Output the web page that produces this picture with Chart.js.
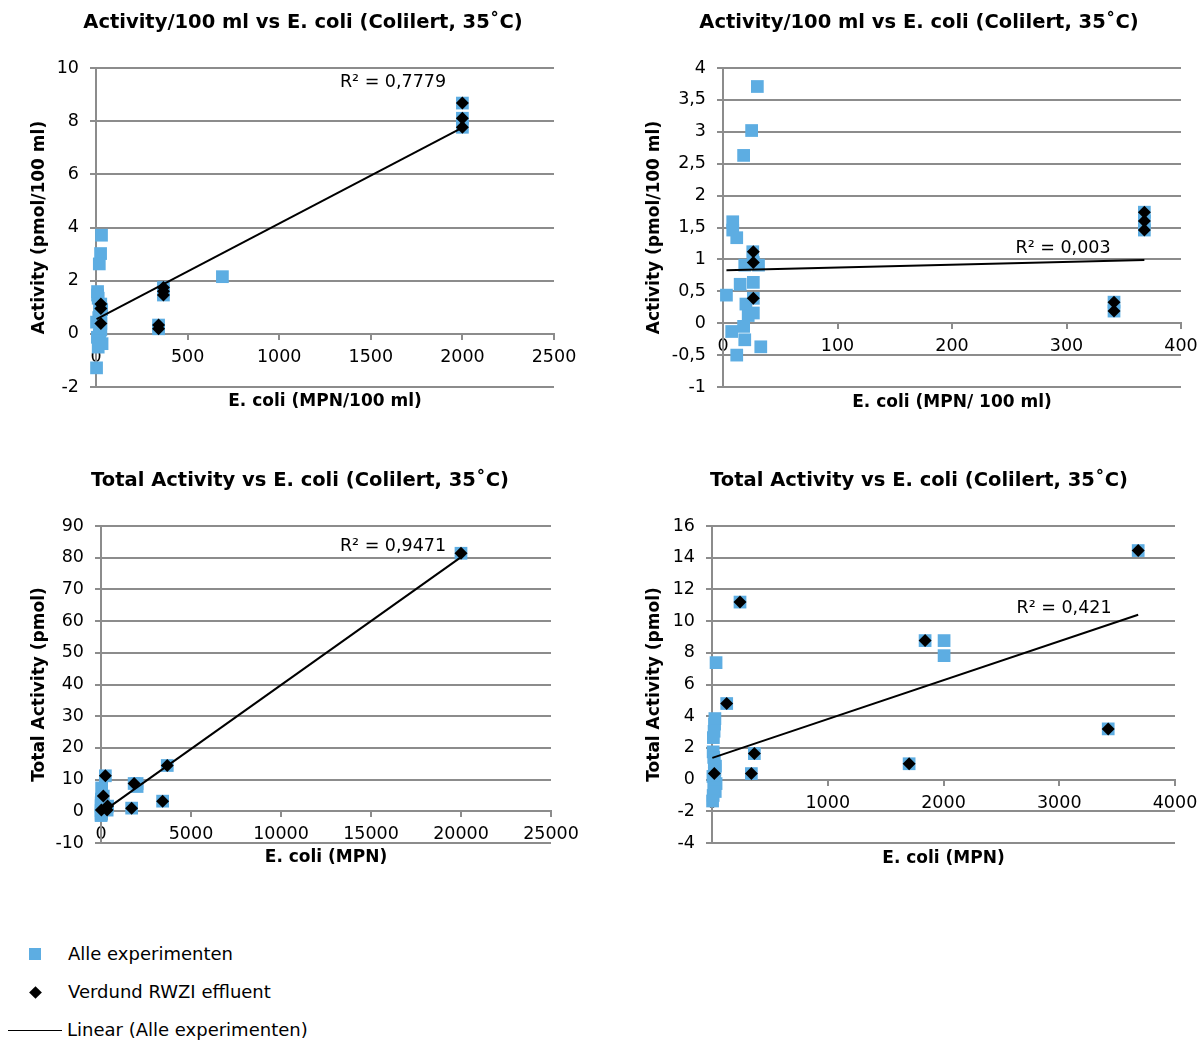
<!DOCTYPE html>
<html><head><meta charset="utf-8">
<script src="https://cdn.jsdelivr.net/npm/chart.js@4.4.1/dist/chart.umd.min.js"></script>
<style>
body{margin:0;width:1200px;height:1040px;position:relative;background:#fff;font-family:"DejaVu Sans",sans-serif;color:#000;overflow:hidden}
canvas{position:absolute}
.t{position:absolute;width:600px;text-align:center;font-weight:bold;font-size:19.5px;line-height:24px;white-space:nowrap}
.r{position:absolute;font-size:17.5px;line-height:20px;white-space:nowrap;transform:translateX(-50%)}
.lt{position:absolute;font-size:18px;line-height:22px;white-space:nowrap}
</style></head><body>
<canvas id="c1" width="600" height="420" style="left:0;top:0"></canvas>
<canvas id="c2" width="606" height="420" style="left:600px;top:0"></canvas>
<canvas id="c3" width="600" height="420" style="left:0;top:460px"></canvas>
<canvas id="c4" width="606" height="420" style="left:600px;top:460px"></canvas>

<div class="t" style="left:3px;top:10px">Activity/100 ml vs E. coli (Colilert, 35˚C)</div>
<div class="t" style="left:619px;top:10px">Activity/100 ml vs E. coli (Colilert, 35˚C)</div>
<div class="t" style="left:0px;top:468px">Total Activity vs E. coli (Colilert, 35˚C)</div>
<div class="t" style="left:619px;top:468px">Total Activity vs E. coli (Colilert, 35˚C)</div>

<div class="r" style="left:393px;top:71px">R² = 0,7779</div>
<div class="r" style="left:1063px;top:237px">R² = 0,003</div>
<div class="r" style="left:393px;top:535px">R² = 0,9471</div>
<div class="r" style="left:1064px;top:597px">R² = 0,421</div>

<div style="position:absolute;left:29px;top:948px;width:12px;height:12px;background:#5DADE2"></div>
<div class="lt" style="left:68px;top:943px">Alle experimenten</div>
<div style="position:absolute;left:31px;top:988px;width:9px;height:9px;background:#000;transform:rotate(45deg)"></div>
<div class="lt" style="left:68px;top:981px">Verdund RWZI effluent</div>
<div style="position:absolute;left:8px;top:1030px;width:54px;height:0;border-top:1.6px solid #000"></div>
<div class="lt" style="left:67px;top:1019px">Linear (Alle experimenten)</div>

<script>
// ---- Chart 1: Activity/100 ml vs E. coli (MPN/100 ml) ----
const ecoliA = [30,25,18,8.5,8.5,12,26,26.5,19,31,15,26.5,3,26.5,20,22,26.5,18,7.6,19,33,12,3,341.5,341.5,368,368,368,690,2000,2000,2000];
const activityA = [3.71,3.02,2.63,1.59,1.46,1.34,1.12,0.95,0.91,0.91,0.61,0.64,0.44,0.39,0.30,0.12,0.16,-0.05,-0.13,-0.26,-0.37,-0.50,-1.28,0.33,0.19,1.74,1.60,1.46,2.15,8.68,8.11,7.77];
const effEcoliA = [26.5,26.5,26.5,341.5,341.5,368,368,368,2000,2000,2000];
const effActivityA = [1.12,0.95,0.39,0.33,0.19,1.74,1.60,1.46,8.68,8.11,7.77];
const trendXA = [3,2000];
const trendYA = [0.55,7.76];

// ---- Chart 2: same measurements, E. coli <= 400 MPN/100 ml ----
const ecoliB = [30,25,18,8.5,8.5,12,26,26.5,19,31,15,26.5,3,26.5,20,22,26.5,18,7.6,19,33,12,341.5,341.5,368,368,368];
const activityB = [3.71,3.02,2.63,1.59,1.46,1.34,1.12,0.95,0.91,0.91,0.61,0.64,0.44,0.39,0.30,0.12,0.16,-0.05,-0.13,-0.26,-0.37,-0.50,0.33,0.19,1.74,1.60,1.46];
const effEcoliB = [26.5,26.5,26.5,341.5,341.5,368,368,368];
const effActivityB = [1.12,0.95,0.39,0.33,0.19,1.74,1.60,1.46];
const trendXB = [3,368];
const trendYB = [0.83,0.99];

// ---- Chart 3: Total activity vs E. coli (MPN) ----
const ecoliC = [35,25,22,18,12,10,15,20,30,25,20,8,22,35,15,28,10,5,127,242,340,366,1703,1841,2005,2005,3423,3682,20000];
const activityC = [7.38,3.85,3.5,3.05,2.65,1.75,1.4,1.1,0.85,0.6,0.38,0.2,0.0,-0.25,-0.5,-0.75,-1.0,-1.35,4.8,11.2,0.38,1.64,1.0,8.77,8.77,7.82,3.2,14.45,81.4];
const effEcoliC = [20,127,242,340,366,1703,1841,3423,3682,20000];
const effActivityC = [0.38,4.8,11.2,0.38,1.64,1.0,8.77,3.2,14.45,81.4];
const trendXC = [3,20000];
const trendYC = [-0.5,80.2];

// ---- Chart 4: Total activity, E. coli <= 4000 MPN ----
const ecoliD = [35,25,22,18,12,10,15,20,30,25,20,8,22,35,15,28,10,5,127,242,340,366,1703,1841,2005,2005,3423,3682];
const activityD = [7.38,3.85,3.5,3.05,2.65,1.75,1.4,1.1,0.85,0.6,0.38,0.2,0.0,-0.25,-0.5,-0.75,-1.0,-1.35,4.8,11.2,0.38,1.64,1.0,8.77,8.77,7.82,3.2,14.45];
const effEcoliD = [20,127,242,340,366,1703,1841,3423,3682];
const effActivityD = [0.38,4.8,11.2,0.38,1.64,1.0,8.77,3.2,14.45];
const trendXD = [3,3682];
const trendYD = [1.37,10.4];

// axis ranges [min, max, step]
const xRangeA = [0,2500,500],  yRangeA = [-2,10,2];
const xRangeB = [0,400,100],   yRangeB = [-1,4,0.5];
const xRangeC = [0,25000,5000], yRangeC = [-10,90,10];
const xRangeD = [0,4000,1000], yRangeD = [-4,16,2];

const BLUE = '#5DADE2';
const GRID = '#8c8c8c';
const FONT = '"DejaVu Sans", sans-serif';
const fmt = v => String(Number(v.toFixed(3))).replace('.', ',');
const pts = (xs, ys) => xs.map((x, i) => ({x: x, y: ys[i]}));

function makeChart(id, c) {
  new Chart(document.getElementById(id), {
    type: 'scatter',
    data: {datasets: [
      {label: 'Linear (Alle experimenten)', data: pts(c.tx, c.ty), showLine: true, pointRadius: 0,
       borderColor: '#000', borderWidth: 2, backgroundColor: '#000', order: 0, clip: 12},
      {label: 'Verdund RWZI effluent', data: pts(c.ex, c.ey), pointStyle: 'rectRot', pointRadius: 6.5,
       backgroundColor: '#000', borderColor: '#000', borderWidth: 0, order: 1, clip: 12},
      {label: 'Alle experimenten', data: pts(c.ax, c.ay), pointStyle: 'rect', pointRadius: 9,
       backgroundColor: BLUE, borderColor: BLUE, borderWidth: 0, order: 2, clip: 12}
    ]},
    options: {
      responsive: false, animation: false, devicePixelRatio: 1,
      layout: {padding: {left: 0, top: c.top, right: c.right, bottom: 0}},
      plugins: {legend: {display: false}, tooltip: {enabled: false}, title: {display: false}},
      scales: {
        x: {type: 'linear', position: {y: 0}, min: c.xr[0], max: c.xr[1],
            ticks: {stepSize: c.xr[2], callback: v => fmt(v), color: '#000', padding: 8,
                    font: {family: FONT, size: 17.5}, maxRotation: 0, autoSkip: false},
            grid: {drawOnChartArea: false, drawTicks: true, tickLength: 5, color: GRID, lineWidth: 2},
            border: {display: true, color: GRID, width: 2}},
        xt: {type: 'linear', position: 'bottom', min: c.xr[0], max: c.xr[1],
             ticks: {display: false}, grid: {display: false, drawTicks: false}, border: {display: false},
             title: {display: true, text: c.xt, color: '#000', font: {family: FONT, size: 17, weight: 'bold'},
                     padding: {top: 0, bottom: c.xtPad}},
             afterFit: s => { s.height = c.xtH; }},
        y: {type: 'linear', position: 'left', min: c.yr[0], max: c.yr[1],
            ticks: {stepSize: c.yr[2], callback: v => fmt(v), color: '#000', padding: 11,
                    font: {family: FONT, size: 17.5}},
            grid: {color: GRID, lineWidth: 2, drawTicks: true, tickLength: 6},
            border: {display: true, color: GRID, width: 2},
            title: {display: true, text: c.yt, color: '#000', font: {family: FONT, size: 17, weight: 'bold'},
                    padding: {top: c.ytPad, bottom: 0}},
            afterFit: s => { s.width = c.yW; }}
      }
    }
  });
}

makeChart('c1', {ax: ecoliA, ay: activityA, ex: effEcoliA, ey: effActivityA, tx: trendXA, ty: trendYA,
  xr: xRangeA, yr: yRangeA, xt: 'E. coli (MPN/100 ml)', yt: 'Activity (pmol/100 ml)',
  top: 68, right: 46, yW: 96, ytPad: 29.3, xtH: 33, xtPad: 7.8});
makeChart('c2', {ax: ecoliB, ay: activityB, ex: effEcoliB, ey: effActivityB, tx: trendXB, ty: trendYB,
  xr: xRangeB, yr: yRangeB, xt: 'E. coli (MPN/ 100 ml)', yt: 'Activity (pmol/100 ml)',
  top: 68, right: 25, yW: 123, ytPad: 44.8, xtH: 33, xtPad: 6.8});
makeChart('c3', {ax: ecoliC, ay: activityC, ex: effEcoliC, ey: effActivityC, tx: trendXC, ty: trendYC,
  xr: xRangeC, yr: yRangeC, xt: 'E. coli (MPN)', yt: 'Total Activity (pmol)',
  top: 66, right: 49, yW: 101, ytPad: 29.3, xtH: 37, xtPad: 11.8});
makeChart('c4', {ax: ecoliD, ay: activityD, ex: effEcoliD, ey: effActivityD, tx: trendXD, ty: trendYD,
  xr: xRangeD, yr: yRangeD, xt: 'E. coli (MPN)', yt: 'Total Activity (pmol)',
  top: 66, right: 31, yW: 112, ytPad: 44.8, xtH: 37, xtPad: 10.8});
</script>
</body></html>
